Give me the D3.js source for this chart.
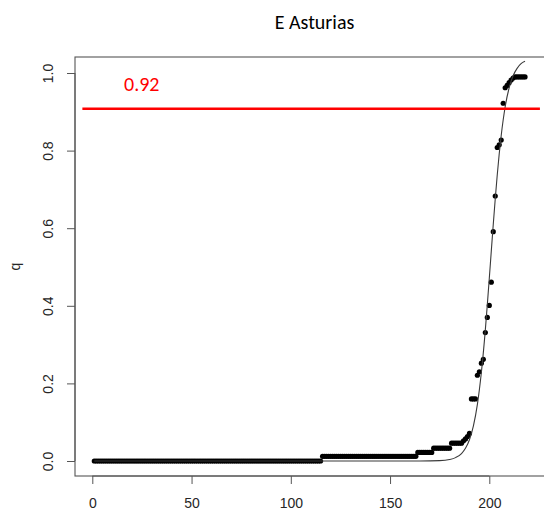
<!DOCTYPE html>
<html>
<head>
<meta charset="utf-8">
<script src="https://cdn.jsdelivr.net/npm/d3@7"></script>
<style>
  html, body { margin: 0; padding: 0; background: #ffffff; }
  svg { display: block; }
</style>
</head>
<body>
<svg id="chart" width="544" height="513"></svg>
<script>
// ---- data ----
const title = "E Asturias";
const yLabel = "q";
const xTicks = [0, 50, 100, 150, 200];
const yTicks = [0.0, 0.2, 0.4, 0.6, 0.8, 1.0];
const yTickLabels = ["0.0", "0.2", "0.4", "0.6", "0.8", "1.0"];

// observed q for day 1..218
const qObserved = [
  0,0,0,0,0,0,0,0,0,0,
  0,0,0,0,0,0,0,0,0,0,
  0,0,0,0,0,0,0,0,0,0,
  0,0,0,0,0,0,0,0,0,0,
  0,0,0,0,0,0,0,0,0,0,
  0,0,0,0,0,0,0,0,0,0,
  0,0,0,0,0,0,0,0,0,0,
  0,0,0,0,0,0,0,0,0,0,
  0,0,0,0,0,0,0,0,0,0,
  0,0,0,0,0,0,0,0,0,0,
  0,0,0,0,0,0,0,0,0,0,
  0,0,0,0,0,
  0.012,0.012,0.012,0.012,0.012,0.012,0.012,0.012,0.012,0.012,
  0.012,0.012,0.012,0.012,0.012,0.012,0.012,0.012,0.012,0.012,
  0.012,0.012,0.012,0.012,0.012,0.012,0.012,0.012,0.012,0.012,
  0.012,0.012,0.012,0.012,0.012,0.012,0.012,0.012,0.012,0.012,
  0.012,0.012,0.012,0.012,0.012,0.012,0.012,0.012,
  0.022,0.022,0.022,0.022,0.022,0.022,0.022,0.022,
  0.033,0.033,0.033,0.033,0.033,0.033,0.033,0.033,0.033,
  0.046,0.046,0.046,0.046,0.046,0.046,
  0.052,0.057,0.063,0.071,0.16,0.16,0.16,0.221,0.23,0.252,
  0.262,0.331,0.37,0.401,0.461,0.591,0.683,0.808,0.815,0.827,
  0.922,0.962,0.968,0.975,0.982,0.987,0.99,0.99,0.99,0.99,
  0.99,0.99
];
const days = d3.range(1, qObserved.length + 1);

// fitted curve
const fitX = [1, 150, 165, 175, 180, 183, 186, 188, 190, 192, 194, 196, 198, 199, 200, 201, 202, 203, 204, 205, 206, 208, 210, 212, 214, 216, 218];
const fitQ = [0, 0, 0.0001, 0.001, 0.0039, 0.0087, 0.0192, 0.0327, 0.0548, 0.0906, 0.146, 0.228, 0.338, 0.403, 0.471, 0.541, 0.610, 0.676, 0.737, 0.792, 0.839, 0.913, 0.962, 0.993, 1.012, 1.024, 1.030];

// threshold line
const thresholdValue = 0.908;
const thresholdLabel = "0.92";
const thresholdX = [-5, 225.5];

// ---- layout ----
const svg = d3.select("#chart");
const frame = { left: 75, right: 547, top: 57, bottom: 476 };
const x = d3.scaleLinear().domain([0, 200]).range([92.3, 489.3]);
const y = d3.scaleLinear().domain([0, 1]).range([461, 73]);

const axisColor = "#555";
const textColor = "#262626";
const axisFont = "'Liberation Sans', Arial, Helvetica, sans-serif";
const titleFont = "Carlito, Calibri, Lato, 'Open Sans', sans-serif";

// frame box
svg.append("rect")
  .attr("x", frame.left).attr("y", frame.top)
  .attr("width", frame.right - frame.left).attr("height", frame.bottom - frame.top)
  .attr("fill", "none").attr("stroke", axisColor).attr("stroke-width", 1.1);

// x axis
const xAxis = d3.axisBottom(x).tickValues(xTicks).tickSize(8).tickPadding(14).tickFormat(d3.format("d"));
const gx = svg.append("g").attr("transform", `translate(0,${frame.bottom})`).call(xAxis);
gx.select(".domain").attr("stroke", axisColor).attr("d", `M${x(0)},0H${x(200)}`);
gx.selectAll(".tick line").attr("stroke", axisColor);
gx.selectAll(".tick text").attr("fill", textColor).style("font-family", axisFont).style("font-size", "14px");

// y axis (rotated labels)
const yAxis = d3.axisLeft(y).tickValues(yTicks).tickSize(8).tickFormat((d, i) => yTickLabels[i]);
const gy = svg.append("g").attr("transform", `translate(${frame.left},0)`).call(yAxis);
gy.select(".domain").attr("stroke", axisColor).attr("d", `M0,${y(0)}V${y(1)}`);
gy.selectAll(".tick line").attr("stroke", axisColor);
gy.selectAll(".tick text")
  .attr("fill", textColor)
  .style("font-family", axisFont).style("font-size", "14px")
  .attr("x", null).attr("dy", null)
  .attr("text-anchor", "middle")
  .attr("transform", "translate(-22,0) rotate(-90)");

// y label
svg.append("text")
  .attr("transform", `translate(20,${(frame.top + frame.bottom) / 2}) rotate(-90)`)
  .attr("text-anchor", "middle")
  .attr("fill", textColor)
  .style("font-family", axisFont).style("font-size", "14px")
  .text(yLabel);

// title
svg.append("text")
  .attr("x", 314.5).attr("y", 29)
  .attr("text-anchor", "middle")
  .attr("fill", "#000")
  .style("font-family", titleFont).style("font-size", "20px")
  .text(title);

// points
svg.append("g").selectAll("circle")
  .data(days)
  .join("circle")
  .attr("cx", (d) => x(d))
  .attr("cy", (d, i) => y(qObserved[i]))
  .attr("r", 2.6)
  .attr("fill", "#000");

// fitted curve
const line = d3.line().x((d) => x(d[0])).y((d) => y(d[1])).curve(d3.curveMonotoneX);
svg.append("path")
  .datum(fitX.map((v, i) => [v, fitQ[i]]))
  .attr("d", line)
  .attr("fill", "none")
  .attr("stroke", "#3a3a3a")
  .attr("stroke-width", 1.1);

// threshold
svg.append("line")
  .attr("x1", x(thresholdX[0])).attr("x2", x(thresholdX[1]))
  .attr("y1", y(thresholdValue)).attr("y2", y(thresholdValue))
  .attr("stroke", "#ff0000").attr("stroke-width", 2.6);

svg.append("text")
  .attr("x", 124).attr("y", 91)
  .attr("fill", "#ff0000")
  .style("font-family", titleFont).style("font-size", "20px")
  .text(thresholdLabel);
</script>
</body>
</html>
